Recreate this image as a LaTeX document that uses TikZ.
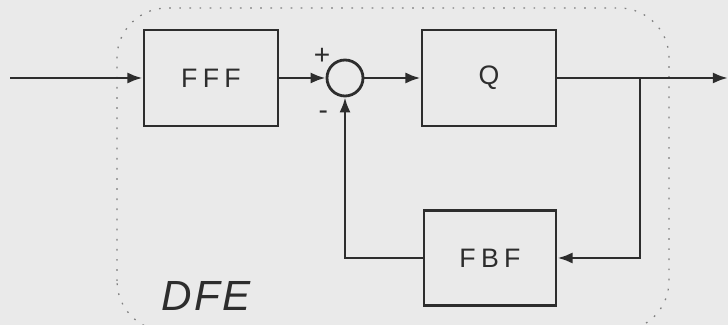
\documentclass[tikz,border=0pt]{standalone}
\usepackage{fontspec}
\setsansfont{Liberation Sans}
\usetikzlibrary{arrows.meta}
\definecolor{paper}{RGB}{234,234,234}
\definecolor{ink}{RGB}{45,45,45}
\tikzset{
  block/.style={draw=ink, line width=2pt, fill=paper, minimum width=3.35cm, minimum height=2.4cm,
    font=\sffamily\addfontfeature{LetterSpace=20}\fontsize{19}{22}\selectfont, text=ink},
  sig/.style={draw=ink, line width=2pt, -{Latex[length=3.8mm,width=2.8mm]}},
}
\begin{document}
\begin{tikzpicture}

\fill[paper] (0,0) rectangle (18.2,8.125);
\useasboundingbox (0,0) rectangle (18.2,8.125);

\begin{scope}
\clip (0,0) rectangle (18.2,8.125);
\draw[gray, line width=0.9pt, dash pattern=on 1.2pt off 6pt, rounded corners=1.25cm] (2.925,-0.15) rectangle (16.725,7.925);
\end{scope}

\node[block] (fff) at (5.275,6.175) {FFF};
\node[block] (q) at (12.225,6.175) {Q};
\node[block, minimum width=3.3cm, minimum height=2.375cm] (fbf) at (12.25,1.675) {FBF};
\filldraw[draw=ink, fill=paper, line width=2pt] (8.625,6.175) circle (0.45cm);
\node[circle, minimum size=0.95cm, inner sep=0pt] (sum) at (8.625,6.175) {};

\coordinate (in) at (0.25,6.175);
\coordinate (out) at (18.2,6.175);
\coordinate (tap) at (16,6.175);

\begin{scope}[sig]
\draw (in) -- (fff);
\draw (fff) -- (sum);
\draw (sum) -- (q);
\draw (q) -- (out);
\draw (tap) |- (fbf);
\draw (fbf) -| (sum);
\end{scope}

\node[text=ink, font=\sffamily\fontsize{20}{22}\selectfont] at (8.05,6.72) {+};
\node[text=ink, font=\sffamily\fontsize{20}{22}\selectfont] at (8.08,5.25) {-};
\node[text=ink, font=\sffamily\itshape\addfontfeature{LetterSpace=6}\fontsize{30}{34}\selectfont] (dfe) at (5.15,0.72) {DFE};

\end{tikzpicture}
\end{document}
